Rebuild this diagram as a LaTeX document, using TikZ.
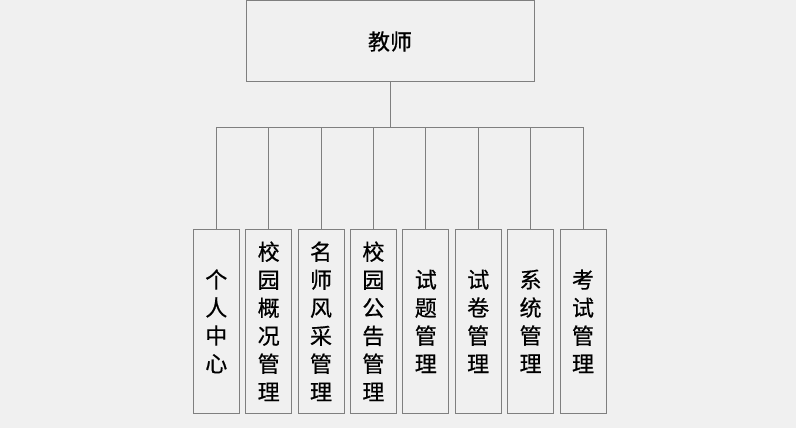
\documentclass[tikz,border=0pt]{standalone}
\usepackage{fontspec}
\setmainfont[FakeBold=0.6]{Noto Sans CJK SC}
\usepackage{tikz}
\pgfdeclarelayer{backlayer}
\pgfdeclarelayer{edgelayer}
\pgfdeclarelayer{nodelayer}
\pgfsetlayers{backlayer,edgelayer,nodelayer,main}
\definecolor{canvas}{HTML}{F0F0F0}
\definecolor{frame}{HTML}{7F7F7F}
\tikzstyle{root}=[rectangle,fill=canvas,draw=frame,line width=0.75pt,minimum width=216pt,minimum height=60.75pt,inner sep=0pt,font=\fontsize{16.5}{20}\selectfont]
\tikzstyle{module}=[rectangle,fill=canvas,draw=frame,line width=0.75pt,minimum width=34.5pt,minimum height=138pt,inner sep=0pt,align=center,font=\fontsize{16.5}{21}\selectfont]
\tikzstyle{branch}=[draw=frame,line width=0.75pt]

\begin{document}
\begin{tikzpicture}[x=0.75pt,y=-0.75pt]
	\begin{pgfonlayer}{backlayer}
		\fill [canvas] (0, 0) rectangle (796, 428);
	\end{pgfonlayer}
	\useasboundingbox (0, 0) rectangle (796, 428);
	\begin{pgfonlayer}{nodelayer}
		\node [style=root] (0) at (390, 41.5) {教师};
		\node [style=module] (1) at (216.3, 321.3) {个\\人\\中\\心};
		\node [style=module] (2) at (268.7, 321.3) {校\\园\\概\\况\\管\\理};
		\node [style=module] (3) at (321, 321.3) {名\\师\\风\\采\\管\\理};
		\node [style=module] (4) at (373.4, 321.3) {校\\园\\公\\告\\管\\理};
		\node [style=module] (5) at (425.8, 321.3) {试\\题\\管\\理};
		\node [style=module] (6) at (478.2, 321.3) {试\\卷\\管\\理};
		\node [style=module] (7) at (530.6, 321.3) {系\\统\\管\\理};
		\node [style=module] (8) at (583, 321.3) {考\\试\\管\\理};
		\coordinate (bus) at (390, 127);
	\end{pgfonlayer}
	\begin{pgfonlayer}{edgelayer}
		\draw [style=branch] (0) -- (bus);
		\draw [style=branch] (bus) -| (1);
		\draw [style=branch] (bus) -| (2);
		\draw [style=branch] (bus) -| (3);
		\draw [style=branch] (bus) -| (4);
		\draw [style=branch] (bus) -| (5);
		\draw [style=branch] (bus) -| (6);
		\draw [style=branch] (bus) -| (7);
		\draw [style=branch] (bus) -| (8);
	\end{pgfonlayer}
\end{tikzpicture}
\end{document}
